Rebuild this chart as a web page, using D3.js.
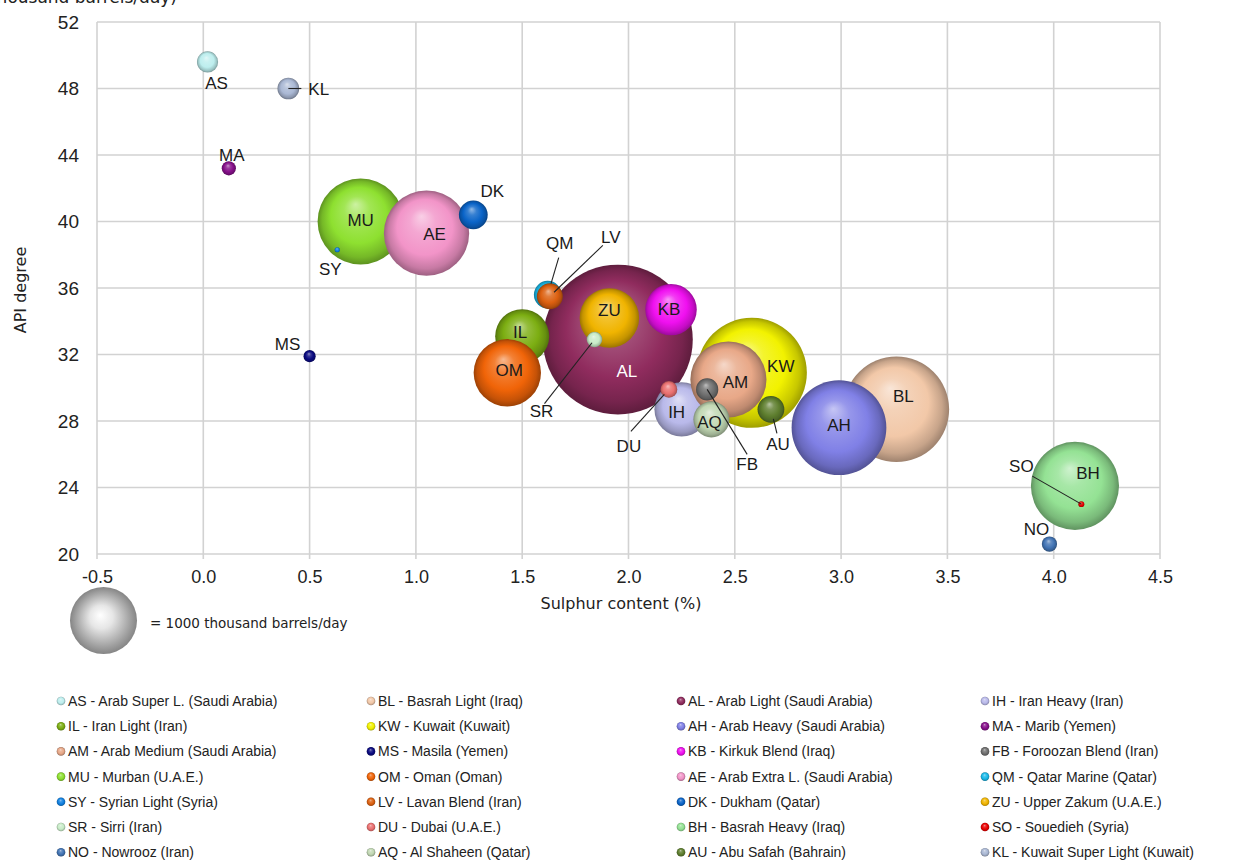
<!DOCTYPE html>
<html><head><meta charset="utf-8">
<script src="https://cdn.jsdelivr.net/npm/d3@7"></script>
<style>body{margin:0;background:#fff;overflow:hidden} svg{display:block}</style>
</head><body><svg id="c" width="1242" height="861"></svg>
<script>
// ---- data ----
const codes = ["AS","BL","AL","IH","IL","KW","AH","MA","AM","MS","KB","FB","MU","OM","AE","QM","SY","LV","DK","ZU","SR","DU","BH","SO","NO","AQ","AU","KL"];
const names = ["Arab Super L. (Saudi Arabia)","Basrah Light (Iraq)","Arab Light (Saudi Arabia)","Iran Heavy (Iran)",
  "Iran Light (Iran)","Kuwait (Kuwait)","Arab Heavy (Saudi Arabia)","Marib (Yemen)",
  "Arab Medium (Saudi Arabia)","Masila (Yemen)","Kirkuk Blend (Iraq)","Foroozan Blend (Iran)",
  "Murban (U.A.E.)","Oman (Oman)","Arab Extra L. (Saudi Arabia)","Qatar Marine (Qatar)",
  "Syrian Light (Syria)","Lavan Blend (Iran)","Dukham (Qatar)","Upper Zakum (U.A.E.)",
  "Sirri (Iran)","Dubai (U.A.E.)","Basrah Heavy (Iraq)","Souedieh (Syria)",
  "Nowrooz (Iran)","Al Shaheen (Qatar)","Abu Safah (Bahrain)","Kuwait Super Light (Kuwait)"];
const sulphur = [0.02,3.26,1.95,2.25,1.50,2.58,2.99,0.12,2.47,0.50,2.20,2.37,0.74,1.43,1.05,1.62,0.63,1.63,1.27,1.91,1.84,2.19,4.10,4.13,3.98,2.39,2.67,0.40];
const apiDeg  = [49.6,28.7,32.9,28.7,33.1,30.9,27.6,43.2,30.5,31.9,34.7,29.9,40.0,30.9,39.3,35.6,38.3,35.5,40.4,34.2,32.9,29.9,24.1,23.0,20.6,28.1,28.7,48.0];
const production = [100,2480,5000,660,650,2700,2000,45,1290,33,590,110,1650,1010,1620,170,6,150,185,790,54,63,1730,8,52,290,160,105];
const colors = ["#bdeeee","#f2c8a8","#902c5e","#b9b9ea","#7cae12","#f2f200","#8080e6","#86108a",
  "#e8a888","#0a0a80","#f010f0","#707070","#8ee030","#f06408","#f294c8","#18b8e8",
  "#1080e0","#dc6010","#0a64c8","#f0b400","#c8ecc8","#ea7070","#94e294","#e80000",
  "#4274b4","#c2d8b4","#5e7e2e","#aab8d4"];
const xTicks = [-0.5,0.0,0.5,1.0,1.5,2.0,2.5,3.0,3.5,4.0,4.5];
const yTicks = [20,24,28,32,36,40,44,48,52];
const sizeKey = 1000;

// ---- layout (pixel offsets for labels, not data) ----
const labelLayout = {
  AS:{dx:9,dy:21}, KL:{dx:20,dy:0,anchor:"start",lead:[13,0,1]}, MA:{dx:3,dy:-13},
  MU:{dx:0,dy:-2}, AE:{dx:8,dy:1}, DK:{dx:19,dy:-24}, SY:{dx:-7,dy:19}, MS:{dx:-22,dy:-12},
  QM:{dx:12,dy:-52,lead:[11,-37,0.7]}, LV:{dx:61,dy:-59,lead:[53,-51,0.92]},
  IL:{dx:-2,dy:-4}, OM:{dx:2,dy:-3}, AL:{dx:9,dy:31,fill:"#fff"}, ZU:{dx:0,dy:-8},
  KB:{dx:-2,dy:-1}, SR:{dx:-53,dy:71,lead:[-50,64,0.95]}, DU:{dx:-40,dy:56,lead:[-38,42,0.88]},
  IH:{dx:-5,dy:3}, AQ:{dx:-2,dy:3}, FB:{dx:40,dy:74,lead:[40,65,1]}, AM:{dx:7,dy:2},
  KW:{dx:29,dy:-7}, AU:{dx:7,dy:35,lead:[6,24,0.6]}, AH:{dx:0,dy:-3}, BL:{dx:7,dy:-13},
  BH:{dx:13,dy:-13}, SO:{dx:-60,dy:-38,lead:[-49,-28,1]}, NO:{dx:-13,dy:-15}
};

const svg = d3.select("#c");
const plot = {left:97, right:1160, top:22, bottom:554};
const x = d3.scaleLinear().domain([-0.5,4.5]).range([plot.left, plot.right]);
const y = d3.scaleLinear().domain([20,52]).range([plot.bottom, plot.top]);
const r = d3.scaleSqrt().domain([0,sizeKey]).range([0,33.5]);
const FONT = "'Liberation Sans', Arial, sans-serif";
const WIDE = "'DejaVu Sans', Verdana, sans-serif";

const defs = svg.append("defs");
function sphereGrad(id, base){
  const c = d3.color(base);
  const g = defs.append("radialGradient").attr("id",id)
    .attr("cx","0.5").attr("cy","0.5").attr("r","0.5").attr("fx","0.44").attr("fy","0.3");
  const stops = [
    [0, d3.interpolateRgb(base,"#ffffff")(0.55)],
    [0.3, d3.interpolateRgb(base,"#ffffff")(0.18)],
    [0.65, base],
    [0.88, c.darker(0.55).formatHex()],
    [1, c.darker(1.2).formatHex()]
  ];
  stops.forEach(s=>g.append("stop").attr("offset",s[0]).attr("stop-color",s[1]));
}
colors.forEach((c,i)=>sphereGrad("g"+i,c));
const kg = defs.append("radialGradient").attr("id","gkey").attr("cx","0.5").attr("cy","0.5").attr("r","0.5").attr("fx","0.45").attr("fy","0.42");
kg.append("stop").attr("offset",0).attr("stop-color","#ffffff");
kg.append("stop").attr("offset",0.35).attr("stop-color","#e6e6e6");
kg.append("stop").attr("offset",1).attr("stop-color","#858585");

// top caption, cut by the picture's upper edge as in the reference
svg.append("text").attr("x",177).attr("y",3).attr("text-anchor","end")
  .attr("font-family",WIDE).attr("font-size",17).attr("fill","#222")
  .text("Production (thousand barrels/day)");

// grid
const grid = svg.append("g").attr("stroke","#d2d2d2").attr("stroke-width",1.6);
grid.selectAll("line.v").data(xTicks).join("line")
  .attr("x1",d=>x(d)).attr("x2",d=>x(d)).attr("y1",plot.top).attr("y2",plot.bottom+5);
grid.selectAll("line.h").data(yTicks).join("line")
  .attr("x1",plot.left).attr("x2",plot.right).attr("y1",d=>y(d)).attr("y2",d=>y(d));

// axes
const xAxis = svg.append("g").attr("transform",`translate(0,${plot.bottom})`)
  .call(d3.axisBottom(x).tickValues(xTicks).tickFormat(d=>d.toFixed(1)).tickSize(0).tickPadding(16));
xAxis.select(".domain").remove();
xAxis.selectAll("text").attr("font-family",FONT).attr("font-size",18).attr("fill","#222");
const yAxis = svg.append("g").attr("transform",`translate(79,0)`)
  .call(d3.axisLeft(y).tickValues(yTicks).tickFormat(d=>String(d)).tickSize(0).tickPadding(0));
yAxis.select(".domain").remove();
yAxis.selectAll("text").attr("font-family",FONT).attr("font-size",19).attr("fill","#222");

svg.append("text").attr("x",621).attr("y",609).attr("text-anchor","middle")
  .attr("font-family",WIDE).attr("font-size",16).attr("fill","#222").text("Sulphur content (%)");
svg.append("text").attr("transform","translate(26,290) rotate(-90)").attr("text-anchor","middle")
  .attr("font-family",WIDE).attr("font-size",16).attr("fill","#222").text("API degree");

// bubbles
const data = codes.map((c,i)=>({code:c,name:names[i],sx:sulphur[i],api:apiDeg[i],prod:production[i],i}));
svg.append("g").selectAll("circle").data(data).join("circle")
  .attr("cx",d=>x(d.sx)).attr("cy",d=>y(d.api)).attr("r",d=>r(d.prod))
  .attr("fill",d=>`url(#g${d.i})`);

// leader lines
svg.append("g").attr("stroke","#222").attr("stroke-width",1.1)
  .selectAll("line").data(data.filter(d=>labelLayout[d.code].lead)).join("line")
  .each(function(d){
    const L = labelLayout[d.code].lead, cx = x(d.sx), cy = y(d.api);
    const sx = cx+L[0], sy = cy+L[1];
    d3.select(this).attr("x1",sx).attr("y1",sy)
      .attr("x2",sx+(cx-sx)*L[2]).attr("y2",sy+(cy-sy)*L[2]);
  });

// labels
svg.append("g").selectAll("text").data(data).join("text")
  .attr("x",d=>x(d.sx)+labelLayout[d.code].dx).attr("y",d=>y(d.api)+labelLayout[d.code].dy)
  .attr("dy","0.36em").attr("text-anchor",d=>labelLayout[d.code].anchor||"middle")
  .attr("font-family",FONT).attr("font-size",17)
  .attr("fill",d=>labelLayout[d.code].fill||"#1a1a1a").text(d=>d.code);

// size key
svg.append("circle").attr("cx",103.5).attr("cy",620.5).attr("r",r(sizeKey)).attr("fill","url(#gkey)");
svg.append("text").attr("x",150).attr("y",623).attr("dy","0.36em")
  .attr("font-family",WIDE).attr("font-size",13.5).attr("fill","#222").text("= 1000 thousand barrels/day");

// legend
const colX = [61,371,681,985];
const leg = svg.append("g").selectAll("g").data(data).join("g")
  .attr("transform",(d,k)=>`translate(${colX[k%4]},${701+Math.floor(k/4)*25.2})`);
leg.append("circle").attr("r",4.3).attr("fill",d=>`url(#g${d.i})`);
leg.append("text").attr("x",7).attr("dy","0.36em").attr("font-family",FONT).attr("font-size",14)
  .attr("fill","#222").text(d=>`${d.code} - ${d.name}`);
</script></body></html>
